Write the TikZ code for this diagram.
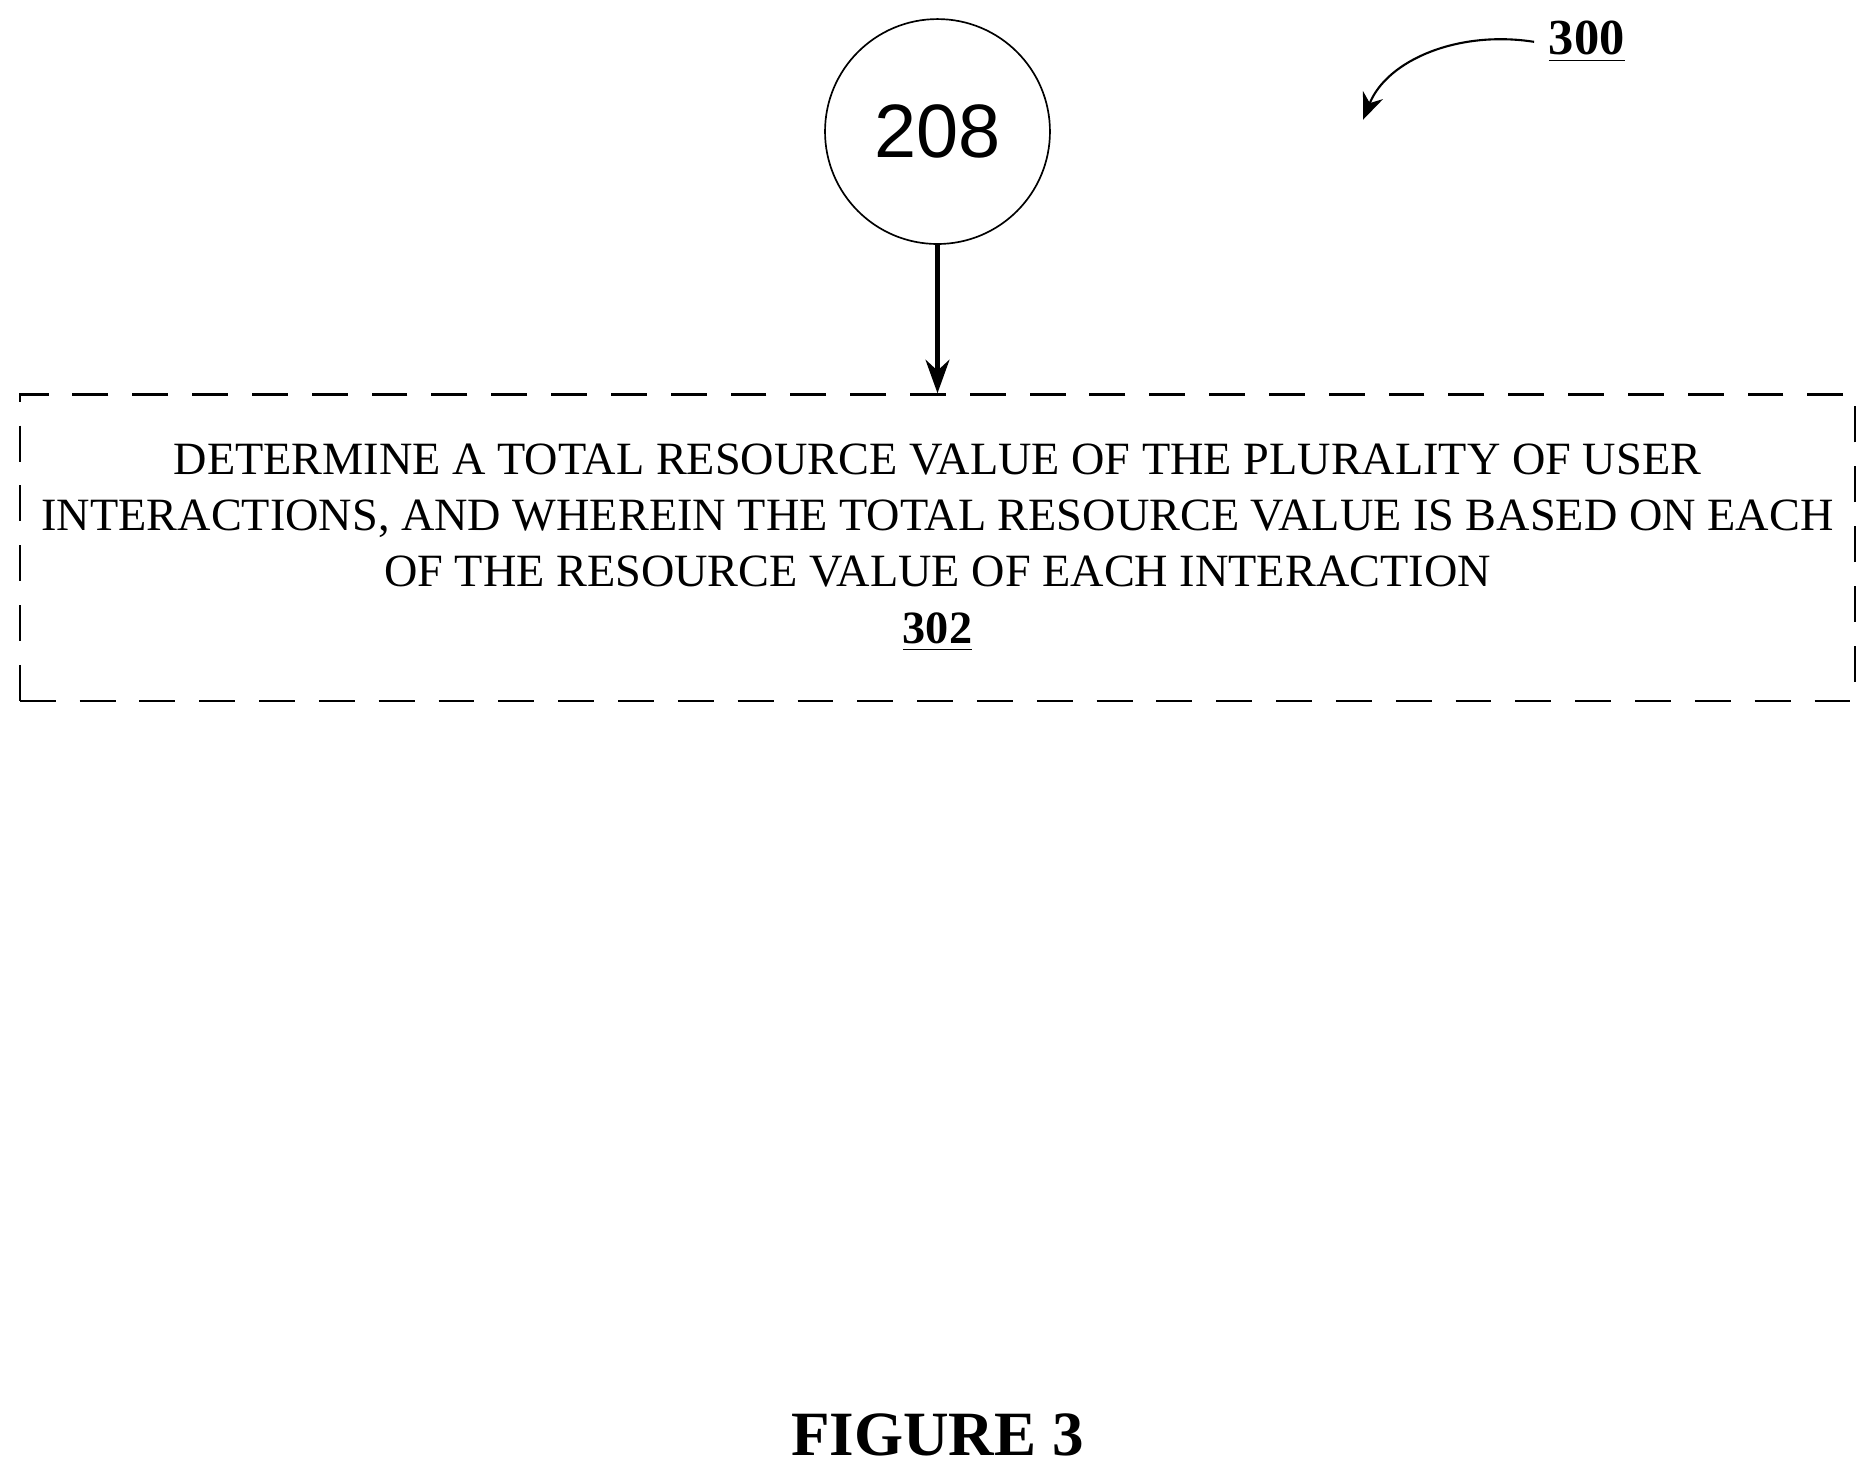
\documentclass[tikz,border=0pt]{standalone}
\usepackage{fontspec}
\setmainfont{Liberation Serif}
\newfontfamily\labelfont{Liberation Sans}
\usetikzlibrary{arrows.meta}
\tikzset{
  stepbox/.style={draw, dash pattern=on 0.3cm off 0.2cm, line width=0.6pt, minimum width=15.34cm, minimum height=2.56cm, align=center, font=\fontsize{11pt}{13.4pt}\selectfont},
  connector/.style={draw, circle, minimum size=1.88cm, line width=0.4pt, font=\labelfont\fontsize{18pt}{20pt}\selectfont},
  flow/.style={-{Stealth[length=0.28cm,width=0.2cm]}, line width=1pt}
}
\begin{document}
\begin{tikzpicture}[x=0.01cm,y=-0.01cm]
      \useasboundingbox (0,0) rectangle (1568,1230);

      % Define the positions of the nodes
      \node[connector] (c208) at (784,110) {208};
      \node[stepbox] (s302) at (784,458) {DETERMINE A TOTAL RESOURCE VALUE OF THE PLURALITY OF USER\\INTERACTIONS, AND WHEREIN THE TOTAL RESOURCE VALUE IS BASED ON EACH\\OF THE RESOURCE VALUE OF EACH INTERACTION\\\textbf{\underline{302}}};

      \node[font=\bfseries\fontsize{12pt}{14pt}\selectfont] (ref) at (1327,35) {\underline{300}};
      \coordinate (refend) at (1140,100);
      \node[font=\bfseries\fontsize{15pt}{18pt}\selectfont] (fig) at (784,1200) {FIGURE 3};

      % Draw the edges
      \draw[flow] (c208) -- (s302);
      \draw[-{Stealth[length=0.22cm,width=0.18cm]}, line width=0.5pt] (ref.west) .. controls (1220,25) and (1160,50) .. (refend);
\end{tikzpicture}
\end{document}
